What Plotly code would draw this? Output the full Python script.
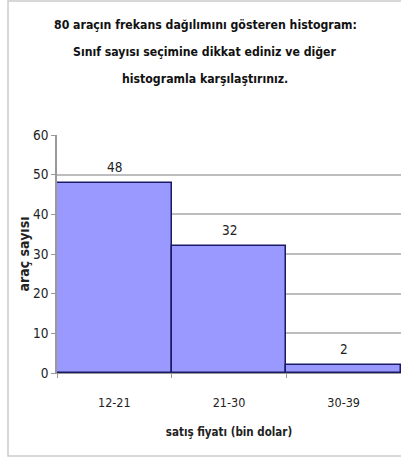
import plotly.graph_objects as go

# Frequency table: price classes and number of cars in each
classes = ["12-21", "21-30", "30-39"]
counts = [48, 32, 2]
y_ticks = [0, 10, 20, 30, 40, 50, 60]

title_lines = [
    "80 araçın frekans dağılımını gösteren histogram:",
    "Sınıf sayısı seçimine dikkat ediniz ve diğer",
    "histogramla karşılaştırınız.",
]

FONT = "DejaVu Sans Condensed, Liberation Sans Narrow, Liberation Sans, sans-serif"

W, H = 401, 461
L, R, T, B = 57, 0, 135, 88
pw, ph = W - L - R, H - T - B


def px_x(p):
    return (p - L) / pw


def px_y(p):
    return (H - B - p) / ph


fig = go.Figure()
fig.add_trace(go.Bar(
    x=classes,
    y=counts,
    width=1,
    marker=dict(color="#9999ff", line=dict(color="#1a1a66", width=1.5)),
    hoverinfo="x+y",
))

# three-line heading
annotations = [
    dict(text=line, xref="paper", yref="paper",
         x=px_x(205), y=px_y(25 + 27 * i), xanchor="center", yanchor="middle",
         showarrow=False, font=dict(family=FONT, size=12.2, color="#111111", weight="bold"))
    for i, line in enumerate(title_lines)
]
# value labels above each bar
annotations += [
    dict(text=str(c), x=cls, y=c, xref="x", yref="y",
         xanchor="center", yanchor="bottom", yshift=6, showarrow=False,
         font=dict(family=FONT, size=13.5, color="#222222"))
    for cls, c in zip(classes, counts)
]

fig.update_layout(
    width=W, height=H,
    margin=dict(l=L, r=R, t=T, b=B),
    paper_bgcolor="white",
    plot_bgcolor="white",
    showlegend=False,
    bargap=0,
    annotations=annotations,
    xaxis=dict(
        type="category",
        range=[-0.5, 2.5],
        tickson="boundaries",
        ticks="outside",
        ticklen=4,
        tickcolor="#999999",
        showline=True,
        linecolor="#999999",
        showgrid=False,
        ticklabelstandoff=18,
        tickfont=dict(family=FONT, size=12.5, color="#222222"),
        title=dict(text="<b>satış fiyatı (bin dolar)</b>",
                   font=dict(family=FONT, size=11.5, color="#222222"),
                   standoff=18),
    ),
    yaxis=dict(
        range=[0, 60],
        tickvals=y_ticks,
        ticks="outside",
        ticklen=4,
        tickcolor="#999999",
        showline=True,
        linecolor="#999999",
        linewidth=1.5,
        showgrid=True,
        gridcolor="#bdbdbd",
        gridwidth=1.5,
        zeroline=False,
        tickfont=dict(family=FONT, size=13.5, color="#222222"),
        title=dict(text="<b>araç sayısı</b>",
                   font=dict(family=FONT, size=14, color="#222222"),
                   standoff=0),
    ),
    shapes=[
        dict(type="rect", xref="paper", yref="paper",
             x0=px_x(8), x1=px_x(W + 5), y0=px_y(456), y1=px_y(1),
             line=dict(color="#cccccc", width=1.5), fillcolor="rgba(0,0,0,0)",
             layer="below"),
    ],
)

fig.write_html("out.html")
